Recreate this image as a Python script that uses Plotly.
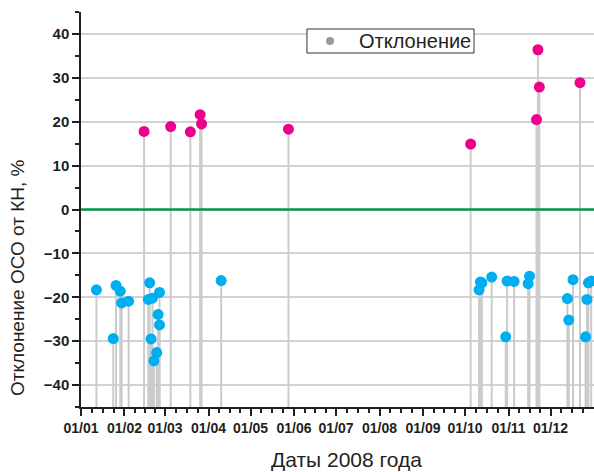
import pandas as pd
import plotly.graph_objects as go

# Measurement dates (2008) and deviation of ОСО from КН, %
dates = [
    "2008-01-12", "2008-01-24", "2008-01-26", "2008-01-29", "2008-01-30",
    "2008-02-04", "2008-02-15", "2008-02-18", "2008-02-19", "2008-02-20",
    "2008-02-21", "2008-02-22", "2008-02-24", "2008-02-25", "2008-02-26",
    "2008-02-26", "2008-03-05", "2008-03-19", "2008-03-26", "2008-03-27",
    "2008-04-10", "2008-05-28", "2008-10-05", "2008-10-11", "2008-10-12",
    "2008-10-13", "2008-10-20", "2008-10-30", "2008-10-31", "2008-11-05",
    "2008-11-15", "2008-11-16", "2008-11-21", "2008-11-22", "2008-11-23",
    "2008-12-13", "2008-12-14", "2008-12-17", "2008-12-22", "2008-12-26",
    "2008-12-27", "2008-12-28", "2008-12-30",
]
deviation = [
    -18.3, -29.4, -17.3, -18.6, -21.3,
    -20.9, 17.8, -20.5, -16.7, -29.5,
    -20.2, -34.5, -32.6, -23.9, -26.3,
    -18.9, 18.9, 17.7, 21.6, 19.5,
    -16.2, 18.3, 14.9, -18.3, -16.5,
    -16.7, -15.4, -29.0, -16.3, -16.4,
    -16.9, -15.2, 20.5, 36.4, 27.9,
    -20.3, -25.2, -16.0, 28.9, -29.0,
    -20.5, -16.7, -16.3,
]
series_name = "Отклонение"

month_ticks = pd.date_range("2008-01-01", "2008-12-01", freq="MS")
month_labels = [d.strftime("%d/%m") for d in month_ticks]

Y_MIN, Y_MAX = -45, 45
PINK = "#ec008c"
BLUE = "#00aeef"
INK = "#231f20"
FONT = "Liberation Sans, Arial, sans-serif"

# quarter-month minor ticks
month_edges = pd.date_range("2008-01-01", "2009-01-01", freq="MS")
minor_ticks = []
for a, b in zip(month_edges[:-1], month_edges[1:]):
    for k in (1, 2, 3):
        minor_ticks.append(a + (b - a) * k / 4)

df = pd.DataFrame({"date": pd.to_datetime(dates), "dev": deviation})
pos = df[df.dev >= 0]
neg = df[df.dev < 0]

# drop lines from each point down to the bottom of the axis
drop_x, drop_y = [], []
for d, v in zip(df.date, df.dev):
    drop_x += [d, d, None]
    drop_y += [v, Y_MIN, None]

fig = go.Figure()
fig.add_trace(go.Scatter(
    x=drop_x, y=drop_y, mode="lines",
    line=dict(color="#cbcbcb", width=2), showlegend=False, hoverinfo="skip",
))
fig.add_trace(go.Scatter(
    x=neg.date, y=neg.dev, mode="markers", name=series_name,
    marker=dict(color=BLUE, size=11), showlegend=False,
))
fig.add_trace(go.Scatter(
    x=pos.date, y=pos.dev, mode="markers", name=series_name,
    marker=dict(color=PINK, size=11), showlegend=False,
))

# zero reference line
fig.add_shape(type="line", xref="paper", yref="y", x0=0, x1=1, y0=0, y1=0,
              line=dict(color="#00994a", width=2.5), layer="above")

# legend box: frame, grey symbol and label
fig.add_shape(type="rect", xref="paper", yref="paper",
              x0=0.4405, x1=0.7661, y0=0.8962, y1=0.957,
              line=dict(color="#333333", width=1), fillcolor="white", layer="above")
fig.add_shape(type="circle", xref="paper", yref="paper",
              x0=0.4776, x1=0.4932, y0=0.9165, y1=0.9367,
              line=dict(width=0), fillcolor="#999999", layer="above")

fig.update_layout(
    width=594, height=472,
    margin=dict(l=81, r=0, t=12, b=65),
    paper_bgcolor="white", plot_bgcolor="white",
    font=dict(family=FONT, color=INK),
    showlegend=False,
    xaxis=dict(
        type="date",
        range=["2008-01-01", "2009-01-01"],
        tickmode="array", tickvals=month_ticks, ticktext=month_labels,
        tickfont=dict(size=14, family=FONT, color=INK, weight="bold"),
        ticks="outside", ticklen=7, tickwidth=1.5, tickcolor=INK,
        minor=dict(tickmode="array", tickvals=minor_ticks, ticks="outside",
                   ticklen=4, tickwidth=1.5, tickcolor=INK, showgrid=False),
        showline=True, linecolor=INK, linewidth=1.5,
        showgrid=False, zeroline=False,
    ),
    yaxis=dict(
        range=[Y_MIN, Y_MAX],
        tickmode="array", tickvals=list(range(-40, 41, 10)),
        tickfont=dict(size=15, family=FONT, color=INK, weight="bold"),
        ticks="outside", ticklen=7, tickwidth=1.5, tickcolor=INK,
        minor=dict(dtick=5, tick0=0, ticks="outside", ticklen=4,
                   tickwidth=1.5, tickcolor=INK, showgrid=False),
        showline=True, linecolor=INK, linewidth=1.5,
        showgrid=True, gridcolor="#d2d2d2", gridwidth=1.5, zeroline=False,
    ),
    annotations=[
        dict(text=series_name, xref="paper", yref="paper",
             x=0.538, y=0.9266, xanchor="left", yanchor="middle",
             showarrow=False, font=dict(size=20, family=FONT, color=INK)),
        dict(text="Отклонение ОСО от КН, %", xref="paper", yref="paper",
             x=-0.1228, y=0.3266, xanchor="center", yanchor="middle",
             textangle=-90, showarrow=False,
             font=dict(size=19, family=FONT, color=INK)),
        dict(text="Даты 2008 года", xref="paper", yref="paper",
             x=0.5185, y=-0.134, xanchor="center", yanchor="middle",
             showarrow=False, font=dict(size=21, family=FONT, color=INK)),
    ],
)

fig.write_html("out.html")
